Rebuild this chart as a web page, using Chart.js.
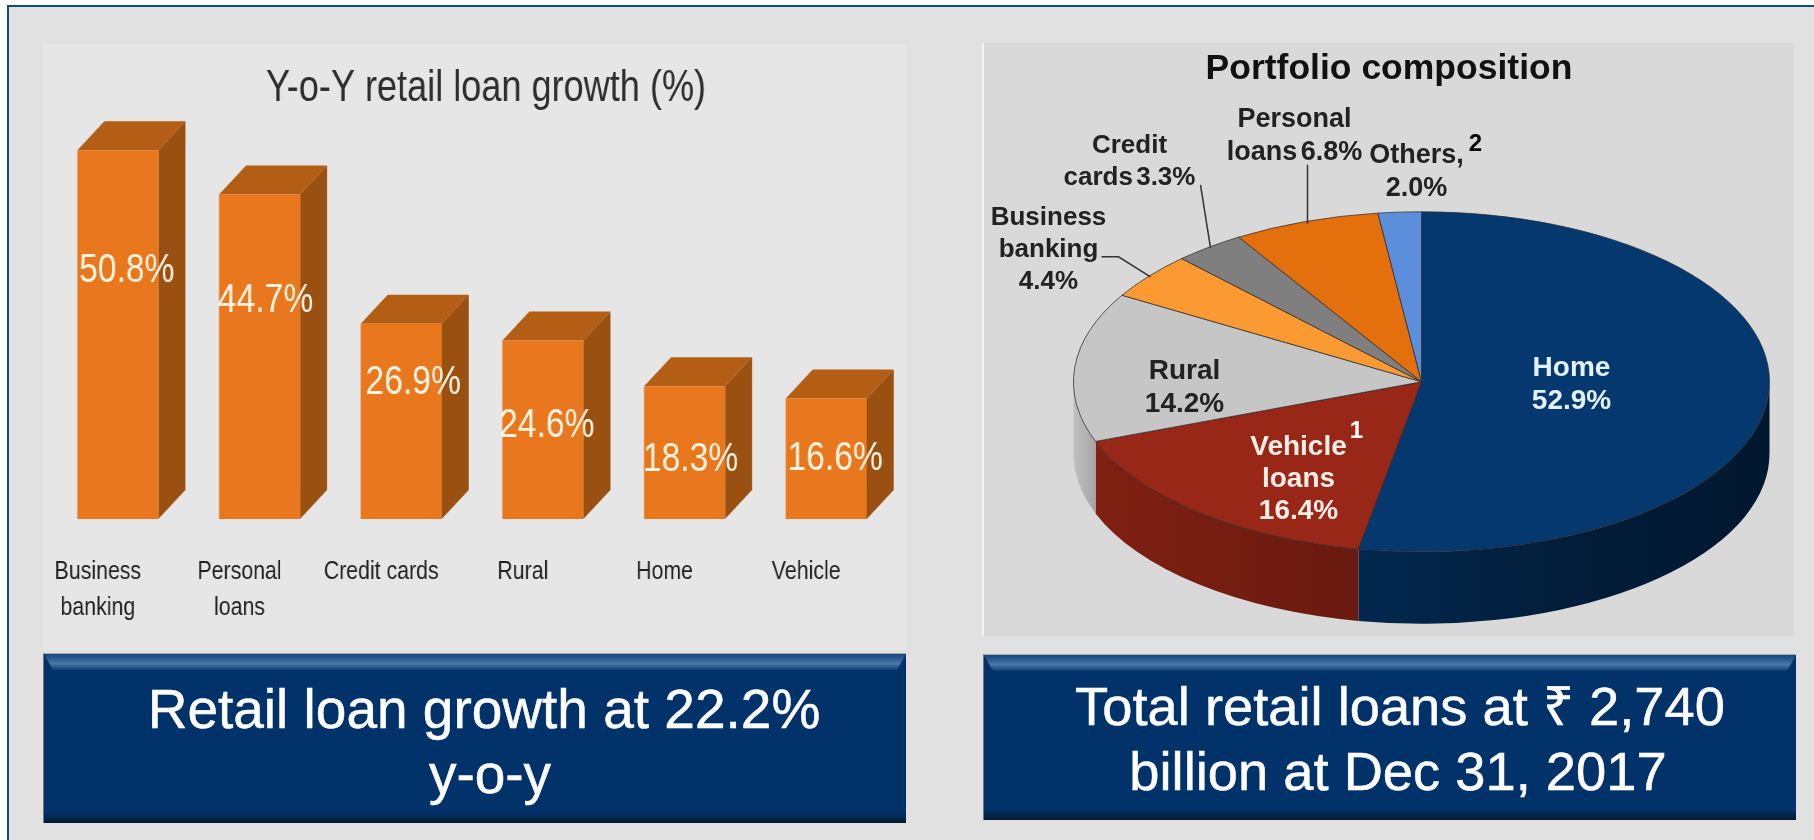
<!DOCTYPE html>
<html>
<head>
<meta charset="utf-8">
<title>Retail loans</title>
<script src="https://cdn.jsdelivr.net/npm/chart.js@4"></script>
<style>
html, body { margin: 0; padding: 0; background: #fff; overflow: hidden; width: 1814px; height: 840px; }
.frame { position: absolute; left: 7px; top: 5px; width: 1807px; height: 835px; box-sizing: border-box; background: #e1e1e1; border-left: 2px solid #134a80; border-top: 2px solid #134a80; }
.panel { position: absolute; }
#leftPanel { left: 43px; top: 44px; width: 863px; height: 606px; background: #e6e6e6; }
#rightPanel { left: 982px; top: 43px; width: 812px; height: 593px; background: #d9d9d9; border-left: 2px solid #f4f4f4; box-sizing: border-box; }
canvas { position: absolute; }
/* the reference's left chart uses a condensed face, so the whole canvas is squeezed */
#growthChart { left: 43px; top: 44px; transform: scaleX(0.8204); transform-origin: 0 0; }
#mixChart { left: 982px; top: 43px; }
.box { position: absolute; box-sizing: border-box; background: #02326a; border-left: 1px solid #777; border-top: 1px solid #aaa; color: #fff; text-align: center; font-family: "Liberation Sans", sans-serif; line-height: 64px; overflow: hidden; -webkit-text-stroke: 0.5px #fff; }
.box:before { content: ""; position: absolute; left: 0; right: 0; top: 0; height: 16px; background: linear-gradient(#174779, #2f6097 35%, #4a78a8 60%, #0e3e75); clip-path: polygon(0 0, 100% 0, calc(100% - 9px) 100%, 9px 100%); }
.box:after { content: ""; position: absolute; left: 0; right: 0; bottom: 0; height: 10px; background: linear-gradient(#02326a, #04203f 70%, #051a30); }
.box span { position: absolute; right: 0; }
#boxLeft { left: 43px; top: 653px; width: 863px; height: 170px; font-size: 55px; }
#boxRight { left: 983px; top: 654px; width: 813px; height: 166px; font-size: 54.3px; }
</style>
</head>
<body>
<div class="frame"></div>
<div class="panel" id="leftPanel"></div>
<div class="panel" id="rightPanel"></div>
<canvas id="growthChart" width="1080" height="618"></canvas>
<canvas id="mixChart" width="812" height="593"></canvas>
<div class="box" id="boxLeft"><span style="top:23px;left:18px">Retail loan growth at 22.2%</span><span style="top:88px;left:30px">y-o-y</span></div>
<div class="box" id="boxRight"><span style="top:20px;left:20px">Total retail loans at ₹ 2,740</span><span style="top:85px;left:16px">billion at Dec 31, 2017</span></div>
<script>
const SANS = '"Liberation Sans", sans-serif'
const K = 0.8204 // horizontal squeeze of the left canvas

// left chart
const growthCategories = [['Business', 'banking'], ['Personal', 'loans'], 'Credit cards', 'Rural', 'Home', 'Vehicle']
const growthValues = [50.8, 44.7, 26.9, 24.6, 18.3, 16.6]
// where each value label sits, relative to the top of its bar
const growthLabelNudge = [[9, 120], [6, 106], [12, 59], [4, 85], [6, 74], [9, 60]]

// right chart
const mixCategories = ['Home', 'Vehicle loans', 'Rural', 'Business banking', 'Credit cards', 'Personal loans', 'Others']
const mixValues = [52.9, 16.4, 14.2, 4.4, 3.3, 6.8, 2.0]
const mixColors = ['#05386f', '#982718', '#c6c6c6', '#fb9a33', '#7f7f7f', '#e36f0d', '#5b8fdb']
const mixWallColors = [['#03284f', '#021d3a', '#02182f'], ['#7f2012', '#6a1a10'], ['#c0c0c0', '#a6a6a6'], [], [], [], []]
const mixLabelLines = [
	['Home', '52.9%'],
	['Vehicle', 'loans', '16.4%'],
	['Rural', '14.2%'],
	['Business', 'banking', '4.4%'],
	['Credit', 'cards 3.3%'],
	['Personal', 'loans 6.8%'],
	['Others,', '2.0%'],
]
const mixLabelColors = ['#e4f0fa', '#fbeee6', '#222', '#222', '#222', '#222', '#222']
const mixLabelSizes = [28, 28, 28, 26, 26, 27, 27]
// first line centre of each label, relative to the pie centre
const mixLabelAnchor = [[150, -14], [-123, 65], [-237, -11], [-373, -164], [-292, -236], [-127, -262], [-5, -226]]
const mixLabelLeading = [33, 32, 33, 32, 32, 33, 33]
const mixLeaders = [null, null, null,
	[[-320, -125], [-303, -125], [-271, -105]],
	[[-221, -197], [-211, -134]],
	[[-114, -217], [-114, -158]],
	null]
const mixNotes = [['1', -65, 50, '#fff'], ['2', 54, -237, '#000']]

const PIE_RX = 348
const PIE_RY = 170
const PIE_DEPTH = 72

const bar3d = {
	id: 'bar3d',
	beforeDatasetsDraw(chart) {
		const ctx = chart.ctx
		const dx = 27 / K
		chart.getDatasetMeta(0).data.forEach((bar) => {
			const l = bar.x - bar.width / 2
			const r = bar.x + bar.width / 2
			ctx.fillStyle = '#b35e14'
			ctx.beginPath()
			ctx.moveTo(l, bar.y)
			ctx.lineTo(r, bar.y)
			ctx.lineTo(r + dx, bar.y - 29)
			ctx.lineTo(l + dx, bar.y - 29)
			ctx.closePath()
			ctx.fill()
			ctx.fillStyle = '#9a5010'
			ctx.beginPath()
			ctx.moveTo(r, bar.y)
			ctx.lineTo(r + dx, bar.y - 29)
			ctx.lineTo(r + dx, bar.base - 29)
			ctx.lineTo(r, bar.base)
			ctx.closePath()
			ctx.fill()
		})
	},
	afterDatasetsDraw(chart) {
		const ctx = chart.ctx
		ctx.save()
		ctx.font = '41px ' + SANS
		ctx.fillStyle = '#fff4e2'
		ctx.textAlign = 'center'
		ctx.textBaseline = 'middle'
		chart.getDatasetMeta(0).data.forEach((bar, i) => {
			const nudge = growthLabelNudge[i]
			ctx.fillText(growthValues[i].toFixed(1) + '%', bar.x + nudge[0] / K, bar.y + nudge[1])
		})
		ctx.restore()
	},
}

new Chart(document.getElementById('growthChart'), {
	type: 'bar',
	data: {
		labels: growthCategories,
		datasets: [{ data: growthValues, backgroundColor: '#e8771d', barPercentage: 0.5716, categoryPercentage: 1 }],
	},
	options: {
		responsive: false,
		animation: false,
		layout: { autoPadding: false, padding: { left: 4 / K, right: 4 / K, top: 0, bottom: 9 } },
		plugins: {
			legend: { display: false },
			tooltip: { enabled: false },
			title: {
				display: true,
				text: 'Y-o-Y retail loan growth (%)',
				color: '#2e2e2e',
				font: { family: SANS, size: 44, weight: 'normal', lineHeight: 1.2 },
				padding: { top: 18, bottom: 5 },
			},
		},
		scales: {
			x: {
				grid: { display: false },
				border: { display: false },
				ticks: {
					color: '#222',
					padding: 27,
					labelOffset: -20 / K,
					maxRotation: 0,
					autoSkip: false,
					font: { family: SANS, size: 26, lineHeight: 1.385 },
				},
			},
			y: {
				position: 'right',
				min: 0,
				max: 55,
				grid: { display: false },
				border: { display: false },
				ticks: { display: false },
				afterFit(scale) { scale.width = 28 / K }, // keeps the title off the plot's centre
			},
		},
	},
	plugins: [bar3d],
})

const pie3d = {
	id: 'pie3d',
	beforeDatasetsDraw(chart) {
		const ctx = chart.ctx
		const arcs = chart.getDatasetMeta(0).data
		const cx = arcs[0].x
		const cy = arcs[0].y
		// the wall below the near rim, only the part facing the viewer
		arcs.forEach((arc, i) => {
			const a = Math.max(arc.startAngle, 0)
			const b = Math.min(arc.endAngle, Math.PI)
			const stops = mixWallColors[i]
			if (b <= a || stops.length === 0) return
			const x0 = cx + Math.cos(b) * PIE_RX
			const x1 = cx + Math.cos(a) * PIE_RX
			const grad = ctx.createLinearGradient(x0, 0, x1, 0)
			stops.forEach((c, j) => grad.addColorStop(j / (stops.length - 1), c))
			ctx.fillStyle = grad
			ctx.beginPath()
			ctx.ellipse(cx, cy, PIE_RX, PIE_RY, 0, a, b)
			ctx.ellipse(cx, cy + PIE_DEPTH, PIE_RX, PIE_RY, 0, b, a, true)
			ctx.closePath()
			ctx.fill()
		})
		// tilt the library's own arcs
		ctx.save()
		ctx.translate(cx, cy)
		ctx.scale(1, PIE_RY / PIE_RX)
		ctx.translate(-cx, -cy)
	},
	afterDatasetsDraw(chart) {
		const ctx = chart.ctx
		ctx.restore()
		const arc0 = chart.getDatasetMeta(0).data[0]
		const cx = arc0.x
		const cy = arc0.y
		ctx.save()
		ctx.strokeStyle = '#333'
		ctx.lineWidth = 1.5
		mixLeaders.forEach((pts) => {
			if (!pts) return
			ctx.beginPath()
			pts.forEach((p, j) => {
				if (j === 0) ctx.moveTo(cx + p[0], cy + p[1])
				else ctx.lineTo(cx + p[0], cy + p[1])
			})
			ctx.stroke()
		})
		ctx.textAlign = 'center'
		ctx.textBaseline = 'middle'
		ctx.wordSpacing = '-4px'
		mixLabelLines.forEach((lines, i) => {
			ctx.font = 'bold ' + mixLabelSizes[i] + 'px ' + SANS
			ctx.fillStyle = mixLabelColors[i]
			lines.forEach((line, j) => {
				ctx.fillText(line, cx + mixLabelAnchor[i][0], cy + mixLabelAnchor[i][1] + j * mixLabelLeading[i])
			})
		})
		ctx.font = 'bold 24px ' + SANS
		mixNotes.forEach((note) => {
			ctx.fillStyle = note[3]
			ctx.fillText(note[0], cx + note[1], cy + note[2])
		})
		ctx.restore()
	},
}

new Chart(document.getElementById('mixChart'), {
	type: 'pie',
	data: {
		labels: mixCategories,
		datasets: [{ data: mixValues, backgroundColor: mixColors, borderColor: '#2b2b2b', borderWidth: 1, radius: PIE_RX, clip: false }],
	},
	options: {
		responsive: false,
		animation: false,
		layout: { autoPadding: false, padding: { left: 2, right: 0, top: 0, bottom: 0 } },
		plugins: {
			legend: { display: false },
			tooltip: { enabled: false },
			title: {
				display: true,
				text: 'Portfolio composition',
				color: '#111',
				font: { family: SANS, size: 35.5, weight: 'bold', lineHeight: 1.2 },
				padding: { top: 5, bottom: 37 },
			},
		},
		scales: {
			y: {
				position: 'left',
				grid: { display: false },
				border: { display: false },
				ticks: { display: false },
				afterFit(scale) { scale.width = 65 }, // the pie sits right of the title's centre
			},
		},
	},
	plugins: [pie3d],
})
</script>
</body>
</html>
